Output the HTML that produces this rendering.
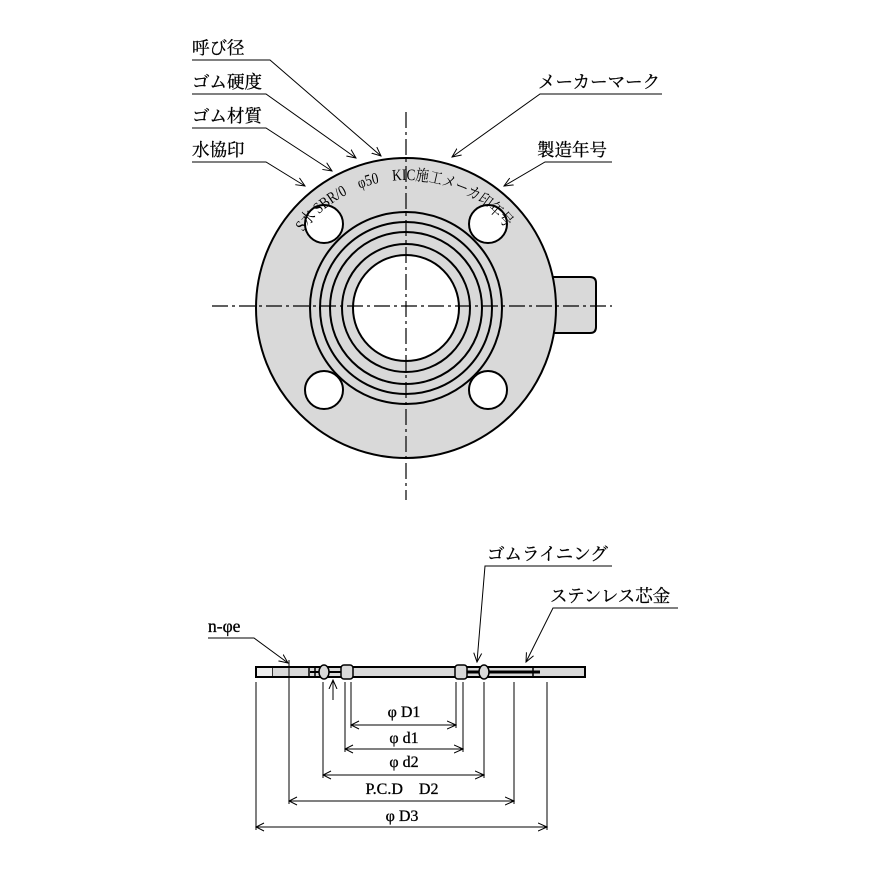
<!DOCTYPE html>
<html><head><meta charset="utf-8"><style>body{margin:0;background:#fff}svg{display:block}</style></head><body>
<svg width="869" height="869" viewBox="0 0 869 869" xmlns="http://www.w3.org/2000/svg" font-family="'Liberation Serif','Noto Serif CJK SC',serif">
<defs>
<marker id="a" markerWidth="10" markerHeight="10" refX="9" refY="5" orient="auto" markerUnits="userSpaceOnUse"><path d="M0,1 L9,5 L0,9" fill="none" stroke="#000" stroke-width="1"/></marker>
<marker id="s" markerWidth="10" markerHeight="10" refX="1" refY="5" orient="auto" markerUnits="userSpaceOnUse"><path d="M9,1 L1,5 L9,9" fill="none" stroke="#000" stroke-width="1"/></marker>
<path id="arc" d="M 303 232 A 128 128 0 0 1 509 232"/>
</defs>
<path d="M553 277 L590 277 Q596 277 596 283 L596 327 Q596 333 590 333 L553 333 Z" fill="#d9d9d9" stroke="#000" stroke-width="2"/>
<circle cx="406" cy="308" r="150" fill="#d9d9d9" stroke="#000" stroke-width="2"/>
<circle cx="324" cy="224" r="19" fill="#fff" stroke="#000" stroke-width="2"/>
<circle cx="488" cy="224" r="19" fill="#fff" stroke="#000" stroke-width="2"/>
<circle cx="324" cy="390" r="19" fill="#fff" stroke="#000" stroke-width="2"/>
<circle cx="488" cy="390" r="19" fill="#fff" stroke="#000" stroke-width="2"/>
<g fill="none" stroke="#000" stroke-width="2">
<circle cx="406" cy="308" r="96"/><circle cx="406" cy="308" r="86"/><circle cx="406" cy="308" r="76"/><circle cx="406" cy="308" r="64"/>
</g>
<circle cx="406" cy="308" r="53" fill="#fff" stroke="#000" stroke-width="2"/>
<g stroke="#000" stroke-width="1.2" stroke-dasharray="16,4,3,4">
<line x1="406" y1="112" x2="406" y2="500"/><line x1="212" y1="306" x2="612" y2="306"/>
</g>
<text font-size="16" fill="#000"><textPath href="#arc" textLength="234" lengthAdjust="spacingAndGlyphs">S水 SBR/0　φ50　KIC施工メーカ印年号</textPath></text>
<g font-size="17.5" fill="#000" stroke="#000" stroke-width="0.3">
<text x="192" y="54">呼び径</text><text x="192" y="88">ゴム硬度</text><text x="192" y="122">ゴム材質</text><text x="192" y="156">水協印</text>
<text x="538" y="88">メーカーマーク</text><text x="537" y="156">製造年号</text>
</g>
<g fill="none" stroke="#000" stroke-width="1">
<path d="M192 60 L270 60 L381 156" marker-end="url(#a)"/>
<path d="M192 94 L266 94 L356 158" marker-end="url(#a)"/>
<path d="M192 128 L266 128 L332 171" marker-end="url(#a)"/>
<path d="M192 162 L266 162 L305 186" marker-end="url(#a)"/>
<path d="M662 94 L540 94 L452 157" marker-end="url(#a)"/>
<path d="M612 162 L545 162 L504 186" marker-end="url(#a)"/>
</g>
<rect x="256" y="667" width="329" height="10" fill="#d9d9d9" stroke="#000" stroke-width="2"/>
<line x1="272" y1="667" x2="272" y2="677" stroke="#000" stroke-width="1.5"/>
<rect x="257" y="668" width="15" height="8" fill="#eee"/>
<g stroke="#000" fill="none" stroke-width="1.5">
<line x1="310" y1="672" x2="345" y2="672" stroke-width="2"/>
<line x1="465" y1="672" x2="540" y2="672" stroke-width="3"/>
<line x1="315" y1="667" x2="315" y2="677"/><line x1="309" y1="667" x2="309" y2="677"/>
<line x1="533" y1="667" x2="533" y2="677"/>
</g>
<ellipse cx="324" cy="672" rx="5" ry="7" fill="#d9d9d9" stroke="#000" stroke-width="1.5"/>
<ellipse cx="484" cy="672" rx="5" ry="7" fill="#d9d9d9" stroke="#000" stroke-width="1.5"/>
<rect x="341" y="665" width="12" height="14" rx="3" fill="#d9d9d9" stroke="#000" stroke-width="1.5"/>
<rect x="455" y="665" width="12" height="14" rx="3" fill="#d9d9d9" stroke="#000" stroke-width="1.5"/>
<g stroke="#000" stroke-width="1">
<line x1="256" y1="682" x2="256" y2="830"/><line x1="547" y1="682" x2="547" y2="830"/>
<line x1="289" y1="660" x2="289" y2="804"/><line x1="514" y1="682" x2="514" y2="804"/>
<line x1="323" y1="682" x2="323" y2="778"/><line x1="484" y1="682" x2="484" y2="778"/>
<line x1="345" y1="682" x2="345" y2="752"/><line x1="463" y1="682" x2="463" y2="752"/>
<line x1="351" y1="682" x2="351" y2="728"/><line x1="456" y1="682" x2="456" y2="728"/>
</g>
<g stroke="#000" stroke-width="1" marker-start="url(#s)" marker-end="url(#a)">
<line x1="351" y1="725" x2="456" y2="725"/>
<line x1="345" y1="749" x2="463" y2="749"/>
<line x1="323" y1="775" x2="484" y2="775"/>
<line x1="289" y1="801" x2="514" y2="801"/>
<line x1="256" y1="827" x2="547" y2="827"/>
</g>
<g font-size="16" fill="#000" text-anchor="middle" stroke="#000" stroke-width="0.3">
<text x="404" y="717">φ D1</text><text x="404" y="743">φ d1</text><text x="404" y="767">φ d2</text>
<text x="402" y="794">P.C.D　D2</text><text x="402" y="821">φ D3</text>
</g>
<g font-size="17.5" fill="#000" stroke="#000" stroke-width="0.3">
<text x="208" y="632">n-φe</text><text x="487" y="560">ゴムライニング</text><text x="550" y="602">ステンレス芯金</text>
</g>
<g fill="none" stroke="#000" stroke-width="1">
<path d="M208 638 L254 638 L288 663" marker-end="url(#a)"/>
<path d="M612 566 L485 566 L477 662" marker-end="url(#a)"/>
<path d="M678 608 L553 608 L526 662" marker-end="url(#a)"/>
<line x1="333" y1="700" x2="333" y2="680" marker-end="url(#a)"/>
</g>
</svg>
</body></html>
